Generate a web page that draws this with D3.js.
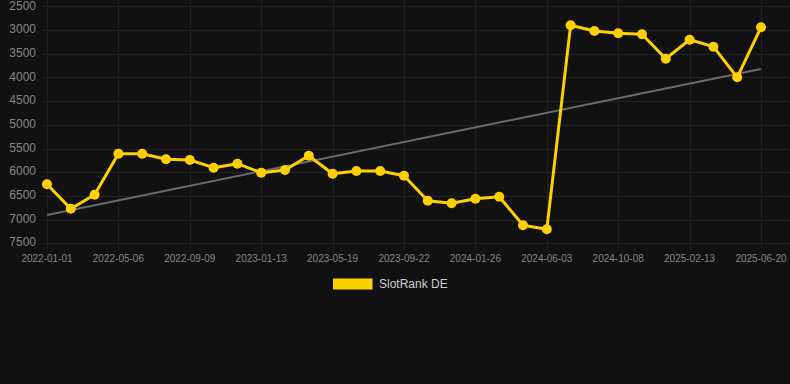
<!DOCTYPE html>
<html>
<head>
<meta charset="utf-8">
<script src="https://cdn.jsdelivr.net/npm/d3@7"></script>
<style>
    html, body { margin: 0; padding: 0; background: #111111; }
    svg { display: block; font-family: "Liberation Sans", Arial, sans-serif; }
</style>
</head>
<body>
<div class="visual"></div>
<script>
const dates = [
    "2022-01-01", "2022-02-12", "2022-03-25", "2022-05-06", "2022-06-17", "2022-07-29",
    "2022-09-09", "2022-10-21", "2022-12-02", "2023-01-13", "2023-02-24", "2023-04-07",
    "2023-05-19", "2023-06-30", "2023-08-11", "2023-09-22", "2023-11-03", "2023-12-15",
    "2024-01-26", "2024-03-08", "2024-04-20", "2024-06-03", "2024-07-15", "2024-08-26",
    "2024-10-08", "2024-11-19", "2025-01-01", "2025-02-13", "2025-03-28", "2025-05-09",
    "2025-06-20"
];

const rankDE = [
    6255, 6770, 6475, 5610, 5610, 5728, 5743, 5905, 5821, 6011, 5954, 5652,
    6032, 5975, 5975, 6074, 6601, 6656, 6559, 6517, 7120, 7205, 2901, 3021,
    3070, 3091, 3605, 3205, 3352, 3998, 2943
];

// trend line end values (first date, last date)
const trendValues = [6903, 3823];

const xTickLabels = [
    "2022-01-01", "2022-05-06", "2022-09-09", "2023-01-13", "2023-05-19", "2023-09-22",
    "2024-01-26", "2024-06-03", "2024-10-08", "2025-02-13", "2025-06-20"
];

const yTicks = [2500, 3000, 3500, 4000, 4500, 5000, 5500, 6000, 6500, 7000, 7500];

const seriesName = "SlotRank DE";

function display() {
    const width = 790, height = 384;
    const left = 47, right = 761, top = 6.3, bottom = 243.3;

    const svg = d3.select(".visual")
        .append("svg")
        .attr("width", width)
        .attr("height", height);

    svg.append("rect")
        .attr("width", width)
        .attr("height", height)
        .attr("fill", "#111111");

    const x = d3.scalePoint()
        .domain(dates)
        .range([left, right]);

    const y = d3.scaleLinear()
        .domain([2500, 7500])
        .range([top, bottom]);

    // horizontal grid
    svg.append("g")
        .selectAll("line")
        .data(yTicks)
        .enter()
        .append("line")
        .attr("x1", left - 4)
        .attr("x2", width)
        .attr("y1", d => Math.round(y(d)) + 0.5)
        .attr("y2", d => Math.round(y(d)) + 0.5)
        .attr("stroke", "#222222")
        .attr("stroke-width", 1);

    // vertical grid
    svg.append("g")
        .selectAll("line")
        .data(xTickLabels)
        .enter()
        .append("line")
        .attr("x1", d => Math.round(x(d)) + 0.5)
        .attr("x2", d => Math.round(x(d)) + 0.5)
        .attr("y1", 0)
        .attr("y2", bottom + 6)
        .attr("stroke", "#1f1f1f")
        .attr("stroke-width", 1);

    // y labels
    svg.append("g")
        .selectAll("text")
        .data(yTicks)
        .enter()
        .append("text")
        .attr("x", 36)
        .attr("y", d => Math.max(y(d), 7))
        .attr("text-anchor", "end")
        .attr("dominant-baseline", "middle")
        .style("font-size", "12px")
        .style("fill", "#858585")
        .text(d => d);

    // x labels
    svg.append("g")
        .selectAll("text")
        .data(xTickLabels)
        .enter()
        .append("text")
        .attr("x", d => x(d))
        .attr("y", 259.5)
        .attr("text-anchor", "middle")
        .attr("dominant-baseline", "middle")
        .style("font-size", "10px")
        .style("fill", "#858585")
        .text(d => d);

    // trend line
    const trendDates = [dates[0], dates[dates.length - 1]];
    svg.append("line")
        .attr("x1", x(trendDates[0]))
        .attr("y1", y(trendValues[0]))
        .attr("x2", x(trendDates[1]))
        .attr("y2", y(trendValues[1]))
        .attr("stroke", "#6a6a6a")
        .attr("stroke-width", 2);

    const points = dates.map((d, i) => ({ date: d, value: rankDE[i] }));

    const line = d3.line()
        .x(d => x(d.date))
        .y(d => y(d.value));

    svg.append("path")
        .datum(points)
        .attr("d", line)
        .attr("fill", "none")
        .attr("stroke", "#FFD000")
        .attr("stroke-width", 3)
        .attr("stroke-linejoin", "round");

    svg.append("g")
        .selectAll("circle")
        .data(points)
        .enter()
        .append("circle")
        .attr("cx", d => x(d.date))
        .attr("cy", d => y(d.value))
        .attr("r", 5)
        .attr("fill", "#FFD000");

    // legend
    svg.append("rect")
        .attr("x", 333)
        .attr("y", 278.5)
        .attr("width", 39.5)
        .attr("height", 11)
        .attr("fill", "#FFD000");

    svg.append("text")
        .attr("x", 379)
        .attr("y", 284.5)
        .attr("dominant-baseline", "middle")
        .style("font-size", "12px")
        .style("fill", "#cccccc")
        .text(seriesName);
}

window.onload = function() {
    display();
};
</script>
</body>
</html>
